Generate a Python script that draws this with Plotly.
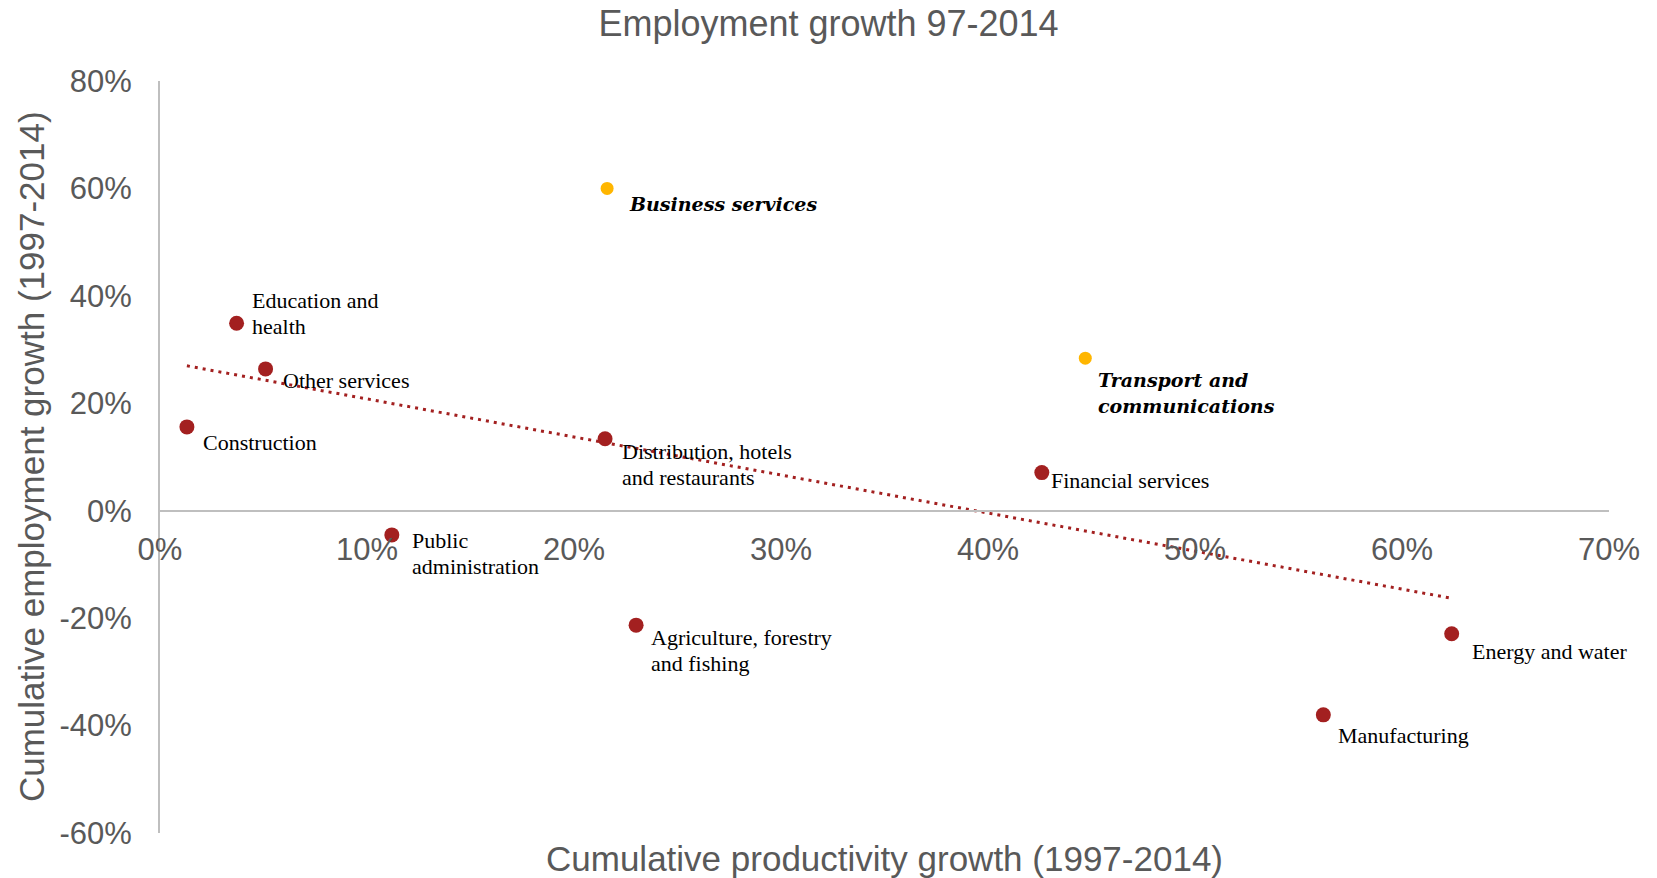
import numpy as np
import plotly.graph_objects as go

# Sector data: cumulative growth 1997-2014, in percent
sectors = [
    "Business services",
    "Transport and<br>communications",
    "Education and<br>health",
    "Other services",
    "Construction",
    "Distribution, hotels<br>and restaurants",
    "Financial services",
    "Public<br>administration",
    "Agriculture, forestry<br>and fishing",
    "Energy and water",
    "Manufacturing",
]
productivity_growth = [21.6, 44.7, 3.7, 5.1, 1.3, 21.5, 42.6, 11.2, 23.0, 62.4, 56.2]
employment_growth = [60.0, 28.4, 34.9, 26.4, 15.6, 13.4, 7.1, -4.5, -21.3, -22.9, -38.0]
highlighted = [True, True, False, False, False, False, False, False, False, False, False]

x_ticks = [0, 10, 20, 30, 40, 50, 60, 70]
y_ticks = [-60, -40, -20, 0, 20, 40, 60, 80]
x_tick_labels = [f"{v}%" for v in x_ticks]
y_tick_labels = [f"{v}%" for v in y_ticks]

# Label placement (pixel offsets of text block centre from its marker)
label_offsets = {
    "Business services": (20, 16),
    "Transport and<br>communications": (11, 35),
    "Education and<br>health": (13, -10),
    "Other services": (15, 12),
    "Construction": (14, 16),
    "Distribution, hotels<br>and restaurants": (15, 26),
    "Financial services": (7, 8),
    "Public<br>administration": (18, 19),
    "Agriculture, forestry<br>and fishing": (13, 25),
    "Energy and water": (18, 18),
    "Manufacturing": (13, 21),
}
LINE_GAP = 26

RED = "#A32020"
YELLOW = "#FFB600"
GREY_TEXT = "#595959"
AXIS_GREY = "#BFBFBF"
SANS = "Arial, Liberation Sans, sans-serif"
SERIF = "Liberation Serif, serif"
SERIF_WIDE = "DejaVu Serif, serif"

x = np.array(productivity_growth)
y = np.array(employment_growth)

fig = go.Figure()

# Linear trend across all sectors
slope, intercept = np.polyfit(x, y, 1)
tx = np.array([x.min(), x.max()])
fig.add_trace(go.Scatter(
    x=tx, y=slope * tx + intercept, mode="lines",
    line=dict(color=RED, width=3, dash="3px,5px"),
    hoverinfo="skip", showlegend=False,
))

colors = [YELLOW if h else RED for h in highlighted]
sizes = [13 if h else 15 for h in highlighted]
fig.add_trace(go.Scatter(
    x=productivity_growth, y=employment_growth, mode="markers",
    marker=dict(color=colors, size=sizes, opacity=1, line=dict(width=0)),
    text=[s.replace("<br>", " ") for s in sectors], hoverinfo="text",
    showlegend=False,
))

for name, px, py, h in zip(sectors, productivity_growth, employment_growth, highlighted):
    dx, dy = label_offsets[name]
    lines = name.split("<br>")
    n = len(lines)
    for i, line in enumerate(lines):
        line_dy = dy + (i - (n - 1) / 2) * LINE_GAP
        if h:
            text = f"<b><i>{line}</i></b>"
            font = dict(family=SERIF_WIDE, size=19, color="#000000")
        else:
            text = line
            font = dict(family=SERIF, size=22, color="#000000")
        fig.add_annotation(
            x=px, y=py, xref="x", yref="y", text=text, showarrow=False,
            xanchor="left", yanchor="middle", align="left",
            xshift=dx, yshift=-line_dy, font=font,
        )

# Axis titles
fig.add_annotation(
    text="Cumulative employment growth (1997-2014)", xref="paper", yref="paper",
    x=-0.089, y=0.5, textangle=-90, showarrow=False,
    xanchor="center", yanchor="middle",
    font=dict(family=SANS, size=35, color=GREY_TEXT),
)
fig.add_annotation(
    text="Cumulative productivity growth (1997-2014)", xref="paper", yref="paper",
    x=0.5, y=-0.034, showarrow=False, xanchor="center", yanchor="middle",
    font=dict(family=SANS, size=35, color=GREY_TEXT),
)

y_min, y_max = y_ticks[0], y_ticks[-1]
fig.update_layout(
    width=1657, height=878,
    margin=dict(l=160, r=48, t=81, b=45),
    paper_bgcolor="white", plot_bgcolor="white",
    title=dict(
        text="Employment growth 97-2014", x=0.5, xref="container",
        y=1 - 23 / 878, yanchor="middle", yref="container",
        font=dict(family=SANS, size=36, color=GREY_TEXT),
    ),
    xaxis=dict(
        range=[x_ticks[0], x_ticks[-1]], tickmode="array",
        tickvals=x_ticks, ticktext=x_tick_labels,
        showgrid=False, zeroline=False, showline=True,
        linecolor=AXIS_GREY, linewidth=2,
        anchor="free", position=(0 - y_min) / (y_max - y_min),
        ticks="", ticklabelstandoff=11,
        tickfont=dict(family=SANS, size=31, color=GREY_TEXT),
    ),
    yaxis=dict(
        range=[y_min, y_max], tickmode="array",
        tickvals=y_ticks, ticktext=y_tick_labels,
        showgrid=False, zeroline=False, showline=True,
        linecolor=AXIS_GREY, linewidth=2,
        ticks="", ticklabelstandoff=20,
        tickfont=dict(family=SANS, size=31, color=GREY_TEXT),
    ),
)

fig.write_html("out.html")
